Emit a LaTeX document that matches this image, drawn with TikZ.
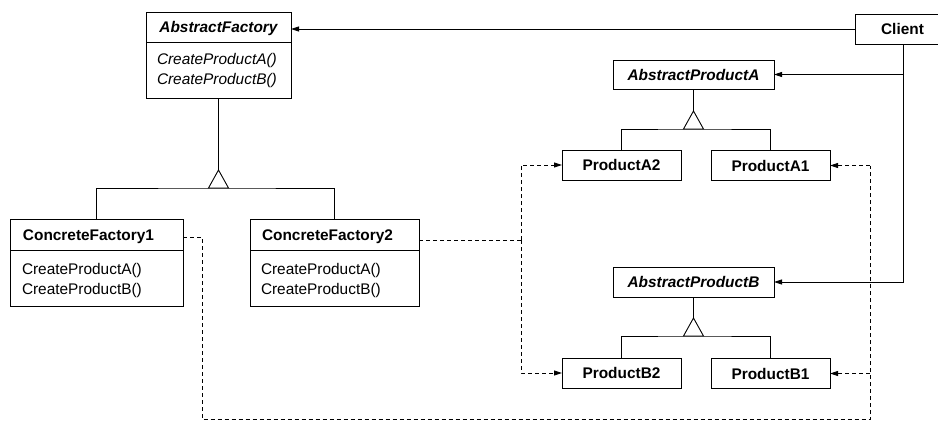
\documentclass[tikz,border=0pt]{standalone}
\usepackage{fontspec}
\setmainfont{Liberation Sans}
\usetikzlibrary{arrows.meta,calc}

% text size used for every label in the diagram
\newcommand{\umlsize}{\fontsize{15.4}{20}\selectfont}

\tikzset{
  cls/.style={draw, line width=0.9pt, inner sep=0pt, outer sep=0pt},
  txt/.style={inner sep=0pt, outer sep=0pt, font=\umlsize},
  itxt/.style={inner sep=0pt, outer sep=0pt, font=\umlsize\itshape},
  ttl/.style={inner sep=0pt, outer sep=0pt, font=\umlsize\bfseries},
  attl/.style={inner sep=0pt, outer sep=0pt, font=\umlsize\bfseries\itshape},
  link/.style={line width=0.9pt},
  dep/.style={line width=0.9pt, dash pattern=on 4pt off 3pt},
  tip/.style={-{Triangle[length=8pt,width=5pt]}},
  gen/.style={line width=0.9pt, fill=white},
}

\begin{document}
\begin{tikzpicture}[x=1pt, y=-1pt]
  \clip (0,0) rectangle (938,421);
  \fill[white] (0,0) rectangle (938,421);

  % ---- factories ----
  \node[cls, minimum width=145pt, minimum height=86pt] (af) at (218.5,55) {};
  \draw[link] (af.west |- 0,42) -- (af.east |- 0,42);
  \node[attl, anchor=base] (afT) at (218.5,32.5) {AbstractFactory};
  \node[itxt, anchor=base west] (afM1) at (157,64.5) {CreateProductA()};
  \node[itxt, anchor=base west] (afM2) at (157,84) {CreateProductB()};

  \node[cls, minimum width=173pt, minimum height=87pt] (cf1) at (96.5,262.5) {};
  \draw[link] (cf1.west |- 0,250) -- (cf1.east |- 0,250);
  \node[ttl, anchor=base west] (cf1T) at (23,240.5) {ConcreteFactory1};
  \node[txt, anchor=base west] (cf1M1) at (22,274.5) {CreateProductA()};
  \node[txt, anchor=base west] (cf1M2) at (22,294) {CreateProductB()};

  \node[cls, minimum width=169pt, minimum height=87pt] (cf2) at (334.5,262.5) {};
  \draw[link] (cf2.west |- 0,250) -- (cf2.east |- 0,250);
  \node[ttl, anchor=base west] (cf2T) at (262,240.5) {ConcreteFactory2};
  \node[txt, anchor=base west] (cf2M1) at (261,274.5) {CreateProductA()};
  \node[txt, anchor=base west] (cf2M2) at (261,294) {CreateProductB()};

  % ---- client ----
  \node[cls, minimum width=96pt, minimum height=30pt] (client) at (903,29) {};
  \node[ttl] (clientT) at (902.5,29) {Client};

  % ---- products ----
  \node[cls, attl, minimum width=161pt, minimum height=29pt] (absA) at (693.5,74.5) {AbstractProductA};
  \node[cls, attl, minimum width=161pt, minimum height=30pt] (absB) at (693.5,282) {AbstractProductB};
  \node[cls, ttl, minimum width=119pt, minimum height=30pt] (pa2) at (621.5,165) {ProductA2};
  \node[cls, ttl, minimum width=119pt, minimum height=30pt] (pa1) at (770.5,165.5) {ProductA1};
  \node[cls, ttl, minimum width=119pt, minimum height=30pt] (pb2) at (621.5,373) {ProductB2};
  \node[cls, ttl, minimum width=119pt, minimum height=30pt] (pb1) at (770.5,373.5) {ProductB1};

  % ---- generalisation ----
  \coordinate (afTri) at ($(af.south)+(0,72)$);
  \draw[link] (af.south) -- (afTri);
  \draw[link] (cf1.north) |- ($(afTri)+(0,18)$) -| (cf2.north);
  \draw[gen] (afTri) -- ++(10,18) -- ++(-20,0) -- cycle;

  \coordinate (aTri) at ($(absA.south)+(0,22)$);
  \draw[link] (absA.south) -- (aTri);
  \draw[link] (pa2.north) |- ($(aTri)+(0,18)$) -| (pa1.north);
  \draw[gen] (aTri) -- ++(10,18) -- ++(-20,0) -- cycle;

  \coordinate (bTri) at ($(absB.south)+(0,21)$);
  \draw[link] (absB.south) -- (bTri);
  \draw[link] (pb2.north) |- ($(bTri)+(0,18)$) -| (pb1.north);
  \draw[gen] (bTri) -- ++(10,18) -- ++(-20,0) -- cycle;

  % ---- client associations ----
  \draw[link, tip] (client.west) -- (client.west -| af.east);
  \draw[link, tip] (client.south) |- (absB.east);
  \draw[link, tip] (client.south |- absA.east) -- (absA.east);

  % ---- creation dependencies ----
  \coordinate (j2) at (521,240);
  \draw[dep] (j2 -| cf2.east) -- (j2);
  \draw[dep, tip] (j2) |- (pa2.west);
  \draw[dep, tip] (j2) |- (pb2.west);

  \coordinate (j1) at (202,237);
  \coordinate (j1b) at (870,419.5);
  \draw[dep] (j1 -| cf1.east) -- (j1) |- (j1b) -- (j1b |- pa1.east);
  \draw[dep, tip] (j1b |- pa1.east) -- (pa1.east);
  \draw[dep, tip] (j1b |- pb1.east) -- (pb1.east);
\end{tikzpicture}
\end{document}
